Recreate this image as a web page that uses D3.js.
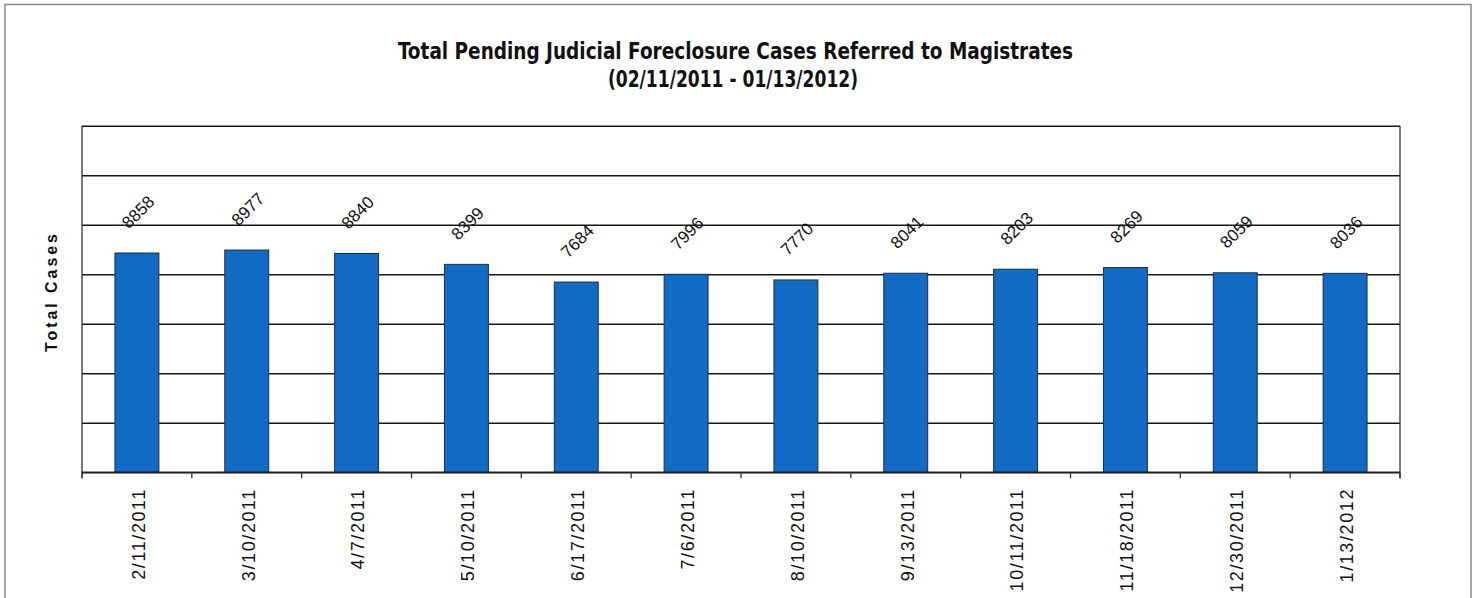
<!DOCTYPE html>
<html><head><meta charset="utf-8">
<script src="https://cdn.jsdelivr.net/npm/d3@7"></script>
<style>body{margin:0;background:#fff}svg{display:block}</style>
</head><body>
<svg id="c" width="1476" height="598"></svg>
<script>
const categories = ["2/11/2011","3/10/2011","4/7/2011","5/10/2011","6/17/2011","7/6/2011","8/10/2011","9/13/2011","10/11/2011","11/18/2011","12/30/2011","1/13/2012"];
const values = [8858, 8977, 8840, 8399, 7684, 7996, 7770, 8041, 8203, 8269, 8059, 8036];
const yTicks = [0, 2000, 4000, 6000, 8000, 10000, 12000, 14000];
const titleLines = ["Total Pending Judicial Foreclosure Cases Referred to Magistrates", "(02/11/2011 - 01/13/2012)"];
const yTitle = "Total Cases";

const svg = d3.select("#c");
const L = 82, R = 1400, T = 125.7, B = 472.3;
const sans = "'Liberation Sans', Arial, Helvetica, sans-serif";

// outer frame
svg.append("rect").attr("x",5).attr("y",4.5).attr("width",1466).attr("height",620)
  .attr("fill","none").attr("stroke","#8a8a8a").attr("stroke-width",1.5);

const x = d3.scaleBand().domain(categories).range([L, R]).paddingInner(0.6).paddingOuter(0.3);
const y = d3.scaleLinear().domain([0, 14000]).range([B, T]);

// gridlines
svg.append("g").attr("transform",`translate(${L},0)`)
  .call(d3.axisLeft(y).tickValues(yTicks).tickSize(-(R-L)).tickFormat(""))
  .call(g => g.select(".domain").remove())
  .call(g => g.selectAll("line").attr("stroke","#161616").attr("stroke-width",1.6));

// plot border right + left
svg.append("line").attr("x1",R).attr("x2",R).attr("y1",T).attr("y2",B+6).attr("stroke","#333").attr("stroke-width",1.3);
svg.append("line").attr("x1",L).attr("x2",L).attr("y1",T).attr("y2",B+6).attr("stroke","#333").attr("stroke-width",1.3);

// bars
svg.append("g").selectAll("rect").data(values).join("rect")
  .attr("x",(d,i)=>x(categories[i]))
  .attr("y",d=>y(d))
  .attr("width",x.bandwidth())
  .attr("height",d=>B-y(d))
  .attr("fill","#116bc4")
  .attr("stroke","#1d2c48").attr("stroke-width",1);

// baseline axis
svg.append("line").attr("x1",L).attr("x2",R).attr("y1",B).attr("y2",B).attr("stroke","#222").attr("stroke-width",1.6);

// category boundary ticks
const step = x.step();
const bounds = categories.map(c => x(c) - (step - x.bandwidth())/2).concat([R]);
svg.append("g").selectAll("line").data(bounds).join("line")
  .attr("x1",d=>d).attr("x2",d=>d).attr("y1",B).attr("y2",B+6)
  .attr("stroke","#333").attr("stroke-width",1.3);

// x labels
svg.append("g").selectAll("text").data(categories).join("text")
  .attr("transform",d=>`translate(${x(d)+x.bandwidth()/2+1.5},488) rotate(-90)`)
  .attr("text-anchor","end").attr("dy","0.35em")
  .attr("font-family",sans).attr("font-size",18)
  .attr("letter-spacing","1.6px").attr("fill","#111")
  .text(d=>d);

// value labels
svg.append("g").selectAll("text").data(values).join("text")
  .attr("transform",(d,i)=>`translate(${x(categories[i])+x.bandwidth()/2+1},${y(d)-41}) rotate(-45)`)
  .attr("text-anchor","middle").attr("dy","0.35em")
  .attr("font-family",sans).attr("font-size",17)
  .attr("fill","#111")
  .text(d=>d);

// title
const tf = "'Liberation Sans Narrow', 'DejaVu Sans Condensed', 'Liberation Sans', sans-serif";
svg.append("text").attr("x",735.5).attr("y",59).attr("text-anchor","middle")
  .attr("font-family",tf).attr("font-weight","bold").attr("font-size",23).attr("fill","#111")
  .attr("textLength",675).attr("lengthAdjust","spacingAndGlyphs").text(titleLines[0]);
svg.append("text").attr("x",733).attr("y",86.5).attr("text-anchor","middle")
  .attr("font-family",tf).attr("font-weight","bold").attr("font-size",23).attr("fill","#111")
  .attr("textLength",250).attr("lengthAdjust","spacingAndGlyphs").text(titleLines[1]);

// y title
svg.append("text").attr("transform","translate(51,293) rotate(-90)")
  .attr("text-anchor","middle").attr("dy","0.35em")
  .attr("font-family",sans).attr("font-weight","bold").attr("font-size",16)
  .attr("fill","#111").attr("textLength",118).attr("lengthAdjust","spacing").text(yTitle);
</script>
</body></html>
